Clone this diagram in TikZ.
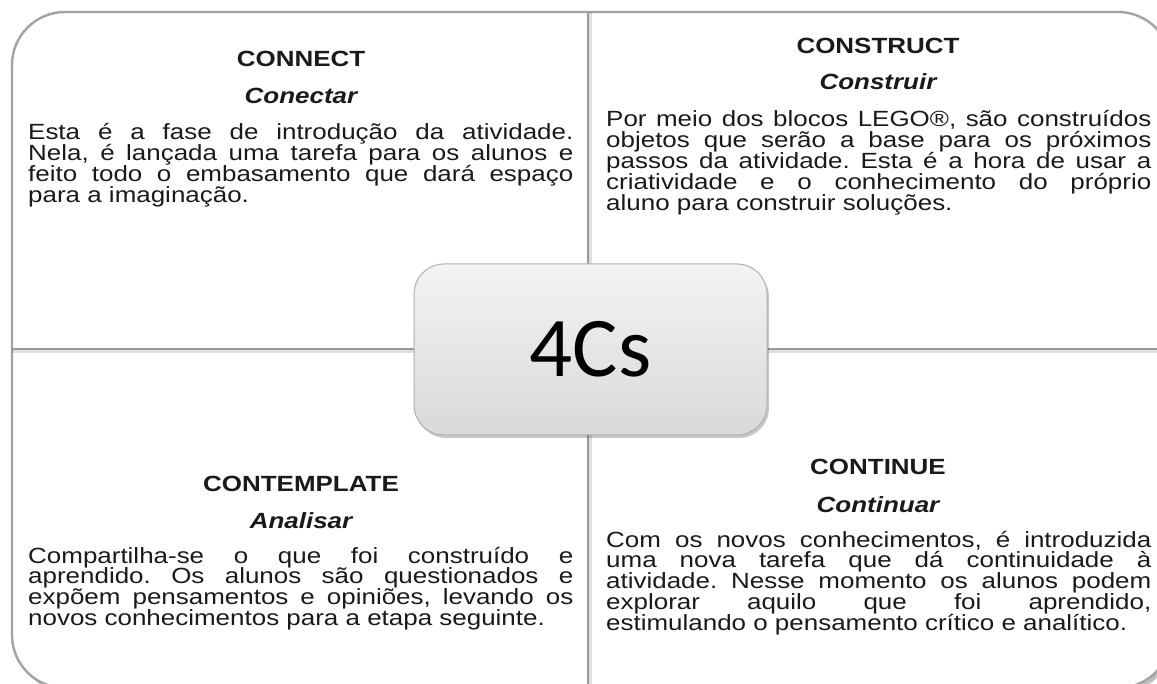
\documentclass[tikz,border=0pt]{standalone}
\usepackage{graphicx}
\usepackage{fontspec}
\setmainfont{Liberation Sans}
\newfontfamily\calibri{Carlito}
\usetikzlibrary{shadows}
\frenchspacing
\definecolor{frame}{HTML}{A3A3A3}
\definecolor{cross}{HTML}{9A9A9A}
\definecolor{boxtop}{HTML}{F3F3F3}
\definecolor{boxbot}{HTML}{D9D9D9}
\definecolor{boxline}{HTML}{B0B0B0}
\definecolor{ink}{HTML}{1A1A1A}
\newcommand\hs[1]{\scalebox{1.18}[1]{#1}}
\newcommand\bodytext[1]{\scalebox{1.18}[1]{\parbox[t]{462pt}{\fontsize{22}{20.9}\selectfont\lineskiplimit=-50pt\frenchspacing\tolerance=10000\hyphenpenalty=10000\exhyphenpenalty=10000\relax #1}}}
\begin{document}
\begin{tikzpicture}[x=1pt,y=-1pt,
  ttl/.style={anchor=base, inner sep=0pt, text=ink, font=\fontsize{22}{26}\selectfont\bfseries},
  sub/.style={anchor=base, inner sep=0pt, text=ink, font=\fontsize{22}{26}\selectfont\bfseries\itshape},
  body/.style={anchor=base west, inner sep=0pt, text=ink},
  crossline/.style={draw=cross, line width=2.4pt},
  crossshadow/.style={draw=black, opacity=0.12, line width=2.5pt},
  centerbox/.style={rectangle, rounded corners=30pt, minimum width=353pt, minimum height=171pt,
    top color=boxtop, bottom color=boxbot, draw=boxline, line width=1pt,
    drop shadow={shadow xshift=2pt, shadow yshift=-3pt, opacity=0.3, fill=black!70},
    text=black, font=\calibri\fontsize{85}{85}\selectfont, inner sep=0pt}
]
\useasboundingbox (0,0) rectangle (1157,684);
\fill[white] (0,0) rectangle (1157,684);
% outer frame
\draw[draw=frame, line width=2.4pt, fill=white, rounded corners=53pt,
  drop shadow={shadow xshift=3pt, shadow yshift=-4pt, opacity=0.35, fill=black!70}]
  (12,12) rectangle (1171,688);
% cross
\coordinate (vt) at (588,12);
\coordinate (vb) at (588,688);
\coordinate (hl) at (12,349);
\coordinate (hr) at (1171,349);
\draw[crossshadow] ([xshift=2.5pt]vt) -- ([xshift=2.5pt]vb);
\draw[crossshadow] ([yshift=-2.5pt]hl) -- ([yshift=-2.5pt]hr);
\draw[crossline] (vt) -- (vb);
\draw[crossline] (hl) -- (hr);
% center
\node[centerbox] (c) at (590.5,349.5) {4Cs};
% Q1
\node[ttl] (t1) at (301,67) {\hs{CONNECT}};
\node[sub] (s1) at (301,104) {\hs{Conectar}};
\node[body] (b1) at (28,140) {\bodytext{Esta é a fase de introdução da atividade.\linebreak
Nela, é lançada uma tarefa para os alunos e\linebreak
feito todo o embasamento que dará espaço\linebreak
para a imaginação.}};
% Q2
\node[ttl] (t2) at (878,54) {\hs{CONSTRUCT}};
\node[sub] (s2) at (878,90) {\hs{Construir}};
\node[body] (b2) at (606,127) {\bodytext{Por meio dos blocos LEGO®, são construídos\linebreak
objetos que serão a base para os próximos\linebreak
passos da atividade. Esta é a hora de usar a\linebreak
criatividade e o conhecimento do próprio\linebreak
aluno para construir soluções.}};
% Q3
\node[ttl] (t3) at (301,491) {\hs{CONTEMPLATE}};
\node[sub] (s3) at (301,528) {\hs{Analisar}};
\node[body] (b3) at (28,563) {\bodytext{Compartilha-se o que foi construído e\linebreak
aprendido. Os alunos são questionados e\linebreak
expõem pensamentos e opiniões, levando os\linebreak
novos conhecimentos para a etapa seguinte.}};
% Q4
\node[ttl] (t4) at (878,475) {\hs{CONTINUE}};
\node[sub] (s4) at (878,512) {\hs{Continuar}};
\node[body] (b4) at (606,547) {\bodytext{Com os novos conhecimentos, é introduzida\linebreak
uma nova tarefa que dá continuidade à\linebreak
atividade. Nesse momento os alunos podem\linebreak
explorar aquilo que foi aprendido,\linebreak
estimulando o pensamento crítico e analítico.}};
\end{tikzpicture}
\end{document}
